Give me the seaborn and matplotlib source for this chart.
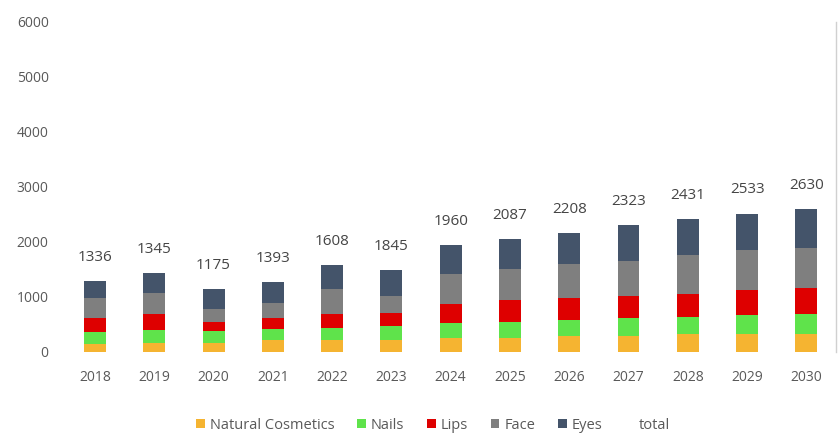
import matplotlib
matplotlib.use("Agg")
import matplotlib.pyplot as plt
import pandas as pd
import seaborn as sns
from matplotlib.patches import Patch

# Market size by category, 2018-2030
years = [str(y) for y in range(2018, 2031)]
natural = [140, 169, 169, 212, 218, 218, 249, 260, 290, 290, 321, 332, 332]
nails = [229, 225, 212, 200, 223, 254, 283, 285, 285, 321, 319, 339, 352]
lips = [243, 301, 163, 200, 243, 230, 345, 394, 410, 405, 417, 454, 472]
face = [363, 370, 242, 283, 454, 314, 534, 563, 606, 635, 702, 726, 726]
eyes = [314, 368, 352, 375, 441, 466, 526, 544, 573, 648, 648, 664, 708]
total = [1336, 1345, 1175, 1393, 1608, 1845, 1960, 2087, 2208, 2323, 2431, 2533, 2630]

series = ["Natural Cosmetics", "Nails", "Lips", "Face", "Eyes"]
colors = ["#F5B431", "#5FE34B", "#DE0000", "#7F7F7F", "#44546A"]

df = pd.DataFrame({"year": years, "Natural Cosmetics": natural, "Nails": nails,
                   "Lips": lips, "Face": face, "Eyes": eyes})
cum = df[series].cumsum(axis=1)
cum["year"] = years

sns.set_theme(style="white")
plt.rcParams["font.family"] = ["Open Sans", "DejaVu Sans"]

fig = plt.figure(figsize=(8.38, 4.36), dpi=100)
ax = fig.add_axes([0.078, 0.193, 0.9196, 0.757])

# Stacked bars: draw cumulative heights from the top layer down
for name, col in reversed(list(zip(series, colors))):
    sns.barplot(data=cum, x="year", y=name, order=years, color=col,
                saturation=1, width=0.37, errorbar=None, linewidth=0, ax=ax)

tops = cum["Eyes"].tolist()
for i, (t, top) in enumerate(zip(total, tops)):
    ax.annotate(str(t), (i, top), xytext=(0, 17), textcoords="offset points",
                ha="center", va="center", fontsize=11, color="#454545")

ax.set_ylim(0, 6000)
ax.set_yticks(range(0, 6001, 1000))
ax.set_xlim(-0.5, len(years) - 0.5)
ax.set_xlabel("")
ax.set_ylabel("")
for s in ["top", "left", "bottom"]:
    ax.spines[s].set_visible(False)
ax.spines["right"].set_color("#D0D0D0")
ax.spines["right"].set_linewidth(1.0)
ax.tick_params(axis="y", length=0, pad=12, labelsize=10, labelcolor="#595959")
ax.tick_params(axis="x", length=0, pad=13, labelsize=10, labelcolor="#595959")

handles = [Patch(facecolor=c, edgecolor="none") for c in colors]
handles.append(Patch(facecolor="none", edgecolor="none"))
labels = series + ["total"]
fig.legend(handles, labels, loc="center", bbox_to_anchor=(0.517, 0.025),
           ncol=6, frameon=False, fontsize=10.5, handlelength=0.6,
           handleheight=0.6, handletextpad=0.35, columnspacing=1.55,
           labelcolor="#595959")

fig.savefig("out.png", dpi=100)
